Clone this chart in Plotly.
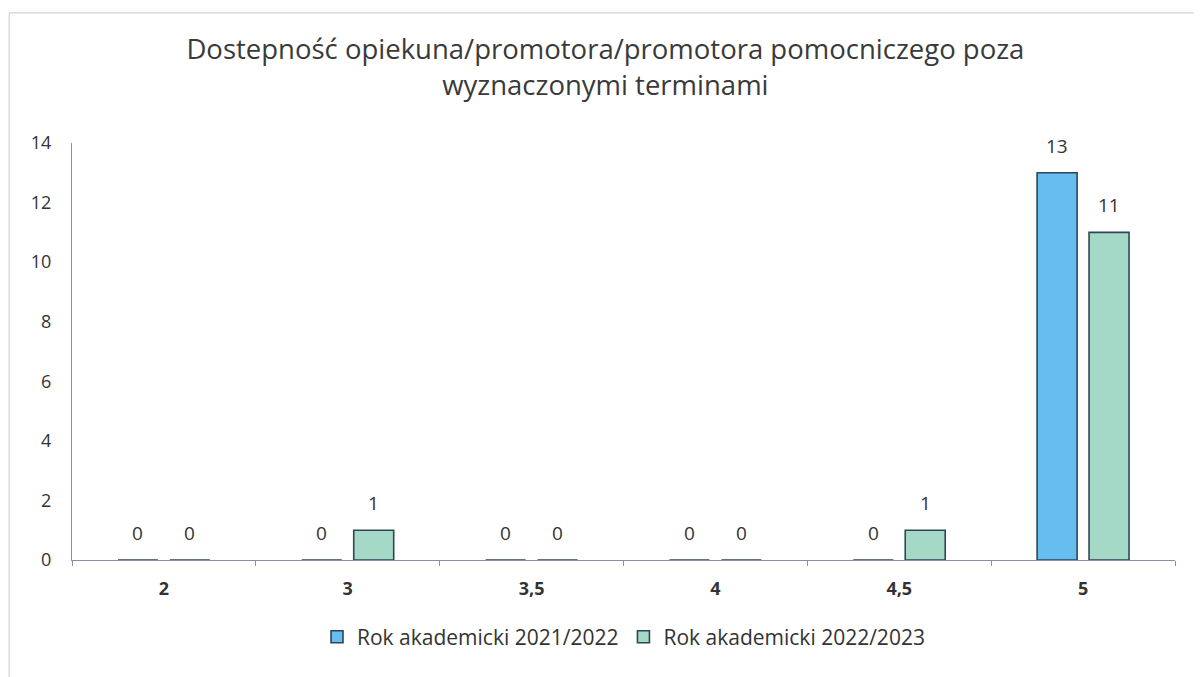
import plotly.graph_objects as go

categories = ["2", "3", "3,5", "4", "4,5", "5"]
series_2021 = [0, 0, 0, 0, 0, 13]
series_2022 = [0, 1, 0, 0, 1, 11]
name_2021 = "Rok akademicki 2021/2022"
name_2022 = "Rok akademicki 2022/2023"
title_text = "Dostepność opiekuna/promotora/promotora pomocniczego poza<br>wyznaczonymi terminami"

edge = "#2f4656"
label_font = dict(size=19, color="#333333", family="Open Sans, sans-serif")

fig = go.Figure()
fig.add_trace(go.Bar(
    x=categories, y=series_2021, name=name_2021,
    marker=dict(color="#66bdf0", line=dict(color=edge, width=1.6)),
))
fig.add_trace(go.Bar(
    x=categories, y=series_2022, name=name_2022,
    marker=dict(color="#a3d9c6", line=dict(color=edge, width=1.6)),
))

# value labels above each bar (left bar / right bar of each group);
# x given as the category index so numeric-looking labels are not misread
for series, shift in ((series_2021, -26), (series_2022, 26)):
    for idx, val in enumerate(series):
        fig.add_annotation(x=idx, y=val, text=str(val), showarrow=False,
                           xshift=shift, yshift=12, yanchor="bottom",
                           font=label_font)

fig.update_layout(
    width=1202, height=677,
    paper_bgcolor="white", plot_bgcolor="white",
    font=dict(family="Open Sans, sans-serif", color="#333333"),
    title=dict(text=title_text, x=0.497, xanchor="center", y=0.925, yanchor="top",
               font=dict(size=27.5, color="#3a3a3a")),
    margin=dict(l=64, r=35, t=135, b=125),
    barmode="group", bargap=0.435, bargroupgap=0.23,
    showlegend=True,
    legend=dict(orientation="h", x=0.5, xanchor="center", y=-0.185, yanchor="middle",
                font=dict(size=21, color="#333333"), traceorder="normal"),
    xaxis=dict(type="category", showline=True, linecolor="#8a8fa8", linewidth=1, ticks="outside",
               tickson="boundaries", ticklen=5, tickcolor="#8a8fa8",
               ticklabelstandoff=12,
               tickfont=dict(size=18, color="#333333", weight="bold"), showgrid=False),
    yaxis=dict(range=[0, 14], dtick=2, showline=True, linecolor="#8a8fa8", linewidth=1,
               showgrid=False, zeroline=False, ticks="", ticklen=0,
               ticklabelstandoff=16,
               tickfont=dict(size=18, color="#333333")),
)

fig.add_shape(type="rect", xref="paper", yref="paper",
              x0=-0.057, x1=1.1, y0=-0.5, y1=1.312,
              line=dict(color="#c8c8d0", width=1), layer="below")

fig.write_html("out.html")
